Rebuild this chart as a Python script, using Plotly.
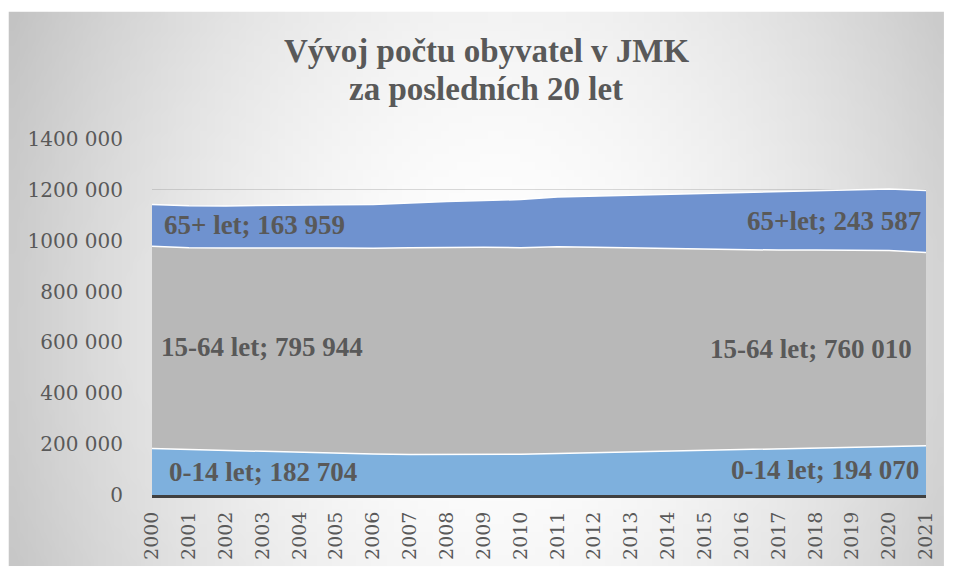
import base64
import struct
import zlib

import plotly.graph_objects as go

# ---------------- data ----------------
YEARS = list(range(2000, 2022))

AGE_0_14 = [182704, 179000, 175000, 171000, 167500, 164000, 161000, 159500, 159000, 159500, 160500,
            163000, 166000, 169000, 172000, 175500, 179000, 182500, 186000, 189500, 192500, 194070]
AGE_15_64 = [795944, 793600, 796300, 801600, 803800, 807300, 808900, 813100, 815000, 814500, 812100,
             813700, 808000, 802300, 796500, 790300, 785500, 780600, 777100, 773600, 769200, 760010]
AGE_65 = [163959, 164500, 165500, 166800, 168500, 170500, 173000, 176500, 180500, 184500, 189000,
          195500, 202000, 208500, 214500, 220000, 225500, 230500, 235000, 239000, 242000, 243587]

SERIES_START_LABELS = ["0-14 let", "15-64 let", "65+ let"]
SERIES_END_LABELS = ["0-14 let", "15-64 let", "65+let"]

Y_TICKS = [0, 200000, 400000, 600000, 800000, 1000000, 1200000, 1400000]
Y_TICK_LABELS = ["0", "200 000", "400 000", "600 000", "800 000", "1000 000", "1200 000", "1400 000"]
X_TICK_LABELS = [str(y) for y in YEARS]

TITLE_LINES = ["Vývoj počtu obyvatel v JMK", "za posledních 20 let"]

# ---------------- geometry / style ----------------
OFF = 8                      # page body margin (the figure is drawn at 8,8 in the window)
W, H = 956 - 2 * OFF, 580 - 2 * OFF
PLOT_L, PLOT_R, PLOT_T, PLOT_B = 152, 930, 139, 500   # window coordinates
ML, MT = PLOT_L - OFF, PLOT_T - OFF
MR = OFF + W - PLOT_R
MB = OFF + H - PLOT_B
PW, PH = W - ML - MR, H - MT - MB

COLORS = ["#7EB0DD", "#B8B8B8", "#6F92CF"]
TEXT = "#595959"


def px_to_paper_x(px):       # px in window coordinates
    return (px - PLOT_L) / PW


def px_to_paper_y(py):
    return (PLOT_B - py) / PH


# radial gradient background as a small png (computed in window coordinates)
def make_gradient_png(gw, gh, x0, y0, x1, y1):
    cx, cy, rx, ry = 500.0, 330.0, 560.0, 800.0
    rows = []
    for j in range(gh):
        py = y0 + (j + 0.5) * (y1 - y0) / gh
        row = bytearray()
        for i in range(gw):
            px = x0 + (i + 0.5) * (x1 - x0) / gw
            d = (((px - cx) / rx) ** 2 + ((py - cy) / ry) ** 2) ** 0.5
            d = min(d, 1.25)
            v = int(round(255 - 65 * d ** 1.78))
            row.append(max(0, min(255, v)))
        rows.append(b"\x00" + bytes(row))
    raw = b"".join(rows)

    def chunk(tag, data):
        c = struct.pack(">I", len(data)) + tag + data
        return c + struct.pack(">I", zlib.crc32(tag + data) & 0xFFFFFFFF)

    png = b"\x89PNG\r\n\x1a\n"
    png += chunk(b"IHDR", struct.pack(">IIBBBBB", gw, gh, 8, 0, 0, 0, 0))
    png += chunk(b"IDAT", zlib.compress(raw, 9))
    png += chunk(b"IEND", b"")
    return "data:image/png;base64," + base64.b64encode(png).decode()


BG_X0, BG_Y0, BG_X1, BG_Y1 = 8, 10, 948, 572
bg_src = make_gradient_png(120, 72, BG_X0, BG_Y0, BG_X1, BG_Y1)

fig = go.Figure()
for name, vals, col in zip(SERIES_START_LABELS, [AGE_0_14, AGE_15_64, AGE_65], COLORS):
    fig.add_trace(go.Scatter(
        x=YEARS, y=vals, name=name, mode="lines", stackgroup="one",
        line=dict(color="white", width=1.5), fillcolor=col, hoverinfo="x+y+name",
    ))

# data labels at first and last point, centered in each band
series = [AGE_0_14, AGE_15_64, AGE_65]
annotations = []
start_shift = [15, 7, 10]
end_shift = [-5, -12, -3]


def fmt(v):
    return f"{v:,}".replace(",", " ")


for idx, vals in enumerate(series):
    for pos, lab_list, shift, anchor in ((0, SERIES_START_LABELS, start_shift, "left"),
                                          (-1, SERIES_END_LABELS, end_shift, "right")):
        base = sum(s[pos] for s in series[:idx])
        mid = base + vals[pos] / 2
        annotations.append(dict(
            x=YEARS[pos], y=mid, xref="x", yref="y",
            text=f"{lab_list[idx]}; {fmt(vals[pos])}",
            showarrow=False, xanchor=anchor, yanchor="middle", xshift=shift[idx],
            font=dict(family="Liberation Serif", size=27, color=TEXT, weight="bold"),
        ))

title_centers = [50, 88]
for line, cy in zip(TITLE_LINES, title_centers):
    annotations.append(dict(
        x=px_to_paper_x(488), y=px_to_paper_y(cy), xref="paper", yref="paper",
        text=f"<b>{line}</b>", showarrow=False, xanchor="center", yanchor="middle",
        font=dict(family="Liberation Serif", size=33, color=TEXT),
    ))

fig.update_layout(
    width=W, height=H,
    margin=dict(l=ML, r=MR, t=MT, b=MB, pad=0),
    paper_bgcolor="white", plot_bgcolor="rgba(0,0,0,0)",
    showlegend=False,
    annotations=annotations,
    images=[dict(
        source=bg_src, xref="paper", yref="paper",
        x=px_to_paper_x(BG_X0), y=px_to_paper_y(BG_Y0),
        sizex=(BG_X1 - BG_X0) / PW, sizey=(BG_Y1 - BG_Y0) / PH,
        xanchor="left", yanchor="top", sizing="stretch", layer="below",
    )],
    xaxis=dict(
        range=[YEARS[0], YEARS[-1]], tickmode="array", tickvals=YEARS, ticktext=X_TICK_LABELS,
        tickangle=-90, showgrid=False, zeroline=False,
        showline=True, linecolor="#404040", linewidth=3, layer="above traces",
        tickfont=dict(family="DejaVu Serif", size=19, color=TEXT), ticklabelstandoff=6,
    ),
    yaxis=dict(
        range=[0, 1400000], tickmode="array", tickvals=Y_TICKS, ticktext=Y_TICK_LABELS,
        showgrid=True, gridcolor="rgba(150,150,150,0.35)", gridwidth=1,
        zeroline=False, showline=False, layer="above traces",
        tickfont=dict(family="DejaVu Serif", size=20, color=TEXT), ticklabelstandoff=28,
    ),
)

fig.write_html("out.html")
